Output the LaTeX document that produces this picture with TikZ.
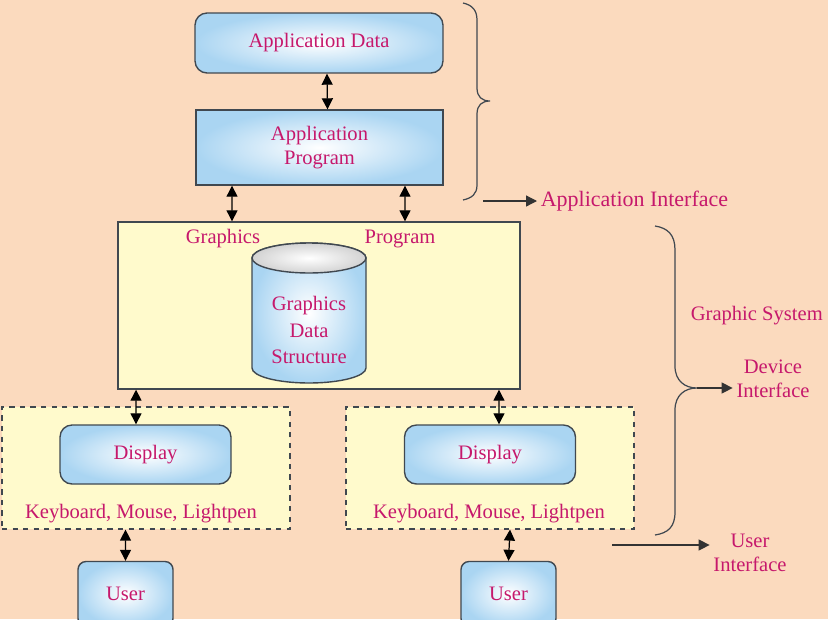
\documentclass[tikz,border=0pt]{standalone}
\usepackage{fontspec}
\setmainfont{Liberation Serif}
\usetikzlibrary{arrows.meta}
\definecolor{peach}{RGB}{251,218,190}
\definecolor{paleyellow}{RGB}{255,250,204}
\definecolor{skyblue}{RGB}{170,213,242}
\definecolor{rosetext}{RGB}{198,24,108}
\definecolor{edgegrey}{RGB}{64,72,80}

\begin{document}
\begin{tikzpicture}[x=0.02cm,y=0.02cm,
    font=\fontsize{11.7}{13.5}\selectfont,
    every node/.style={text=rosetext},
    bluebox/.style={draw=edgegrey,line width=0.8pt,inner color=white,outer color=skyblue,align=center},
    roundbox/.style={bluebox,rounded corners=0.24cm},
    yellowbox/.style={draw=edgegrey,line width=0.8pt,fill=paleyellow},
    dashbox/.style={draw=edgegrey,dashed,line width=0.7pt,fill=paleyellow},
    note/.style={inner sep=2pt,align=center},
    biarrow/.style={{Triangle[length=2.2mm,width=2.2mm]}-{Triangle[length=2.2mm,width=2.2mm]},line width=0.7pt},
    arr/.style={-{Triangle[length=2.2mm,width=2.2mm]},line width=0.7pt,draw=black!80},
    bracket/.style={draw=edgegrey,line width=0.7pt}]

\useasboundingbox (0,0) rectangle (828,-619);
\fill[peach] (0,0) rectangle (828,-619);

% application side
\node[roundbox,minimum width=4.96cm,minimum height=1.2cm] (appdata) at (319,-43) {Application Data};
\node[bluebox,minimum width=4.94cm,minimum height=1.5cm] (appprog) at (319.5,-147.5) {Application\\Program};
\node[yellowbox,minimum width=8.04cm,minimum height=3.34cm] (gprog) at (319,-305.5) {};
\node[note] (gfx) at (223,-239) {Graphics};
\node[note] (prg) at (400,-239) {Program};

% data structure
\draw[bluebox] (252,-258) -- (252,-368) arc[start angle=180,end angle=360,x radius=57,y radius=15]
    -- (366,-258) arc[start angle=0,end angle=180,x radius=57,y radius=15] -- cycle;
\draw[draw=edgegrey,line width=0.8pt,inner color=white,outer color=gray!35] (309,-258) ellipse[x radius=57,y radius=15];
\node[note] (gds) at (309,-330) {Graphics\\[1.8pt]Data\\[1.8pt]Structure};

% devices
\node[dashbox,minimum width=5.76cm,minimum height=2.44cm] (kb1) at (146,-468) {};
\node[dashbox,minimum width=5.76cm,minimum height=2.44cm] (kb2) at (490,-468) {};
\node[roundbox,minimum width=3.42cm,minimum height=1.18cm] (disp1) at (145.5,-454.5) {Display};
\node[roundbox,minimum width=3.42cm,minimum height=1.18cm] (disp2) at (490,-454.5) {Display};
\node[note] (keys1) at (141,-514) {Keyboard, Mouse, Lightpen};
\node[note] (keys2) at (489,-514) {Keyboard, Mouse, Lightpen};
\node[bluebox,rounded corners=0.16cm,minimum width=1.9cm,minimum height=1.3cm] (user1) at (125.5,-594) {User};
\node[bluebox,rounded corners=0.16cm,minimum width=1.9cm,minimum height=1.3cm] (user2) at (508.5,-594) {User};

\draw[biarrow] ([xshift=0.16cm]appdata.south) -- ([xshift=0.16cm]appprog.north);
\draw[biarrow] ([xshift=-1.75cm]appprog.south) -- ([xshift=-1.74cm]gprog.north);
\draw[biarrow] ([xshift=1.71cm]appprog.south) -- ([xshift=1.72cm]gprog.north);
\draw[biarrow] ([xshift=-3.66cm]gprog.south) -- ([xshift=-0.19cm]disp1.north);
\draw[biarrow] ([xshift=3.6cm]gprog.south) -- ([xshift=0.18cm]disp2.north);
\draw[biarrow] ([xshift=-0.41cm]kb1.south) -- (user1.north);
\draw[biarrow] ([xshift=0.4cm]kb2.south) -- (user2.north);

% braces and interface labels
\draw[bracket] (463,-3) .. controls (472,-5) and (477,-10) .. (477,-20) -- (477,-88)
    .. controls (477,-97) and (482,-101) .. (490,-101) .. controls (482,-101) and (477,-105) .. (477,-114)
    -- (477,-185) .. controls (477,-194) and (472,-198) .. (463,-200);
\draw[bracket] (655,-226) .. controls (668,-228) and (675,-235) .. (675,-250) -- (675,-366)
    .. controls (675,-381) and (685,-388) .. (697,-388) .. controls (685,-388) and (675,-395) .. (675,-410)
    -- (675,-512) .. controls (675,-527) and (668,-533) .. (655,-535);

\coordinate (ai0) at (483,-201);
\coordinate (di0) at (697,-388);
\coordinate (ui0) at (612,-545);
\node[note,anchor=west,font=\fontsize{12.5}{14}\selectfont] (appif) at (537,-201) {Application Interface};
\node[note,anchor=west] (gsys) at (687,-316) {Graphic System};
\node[note] (devif) at (773,-379) {Device\\Interface};
\node[note] (usrif) at (750,-553) {User\\Interface};
\draw[arr] (ai0) -- (appif.west);
\draw[arr] (di0) -- (di0 -| devif.west);
\draw[arr] (ui0) -- (ui0 -| usrif.west);
\end{tikzpicture}
\end{document}
